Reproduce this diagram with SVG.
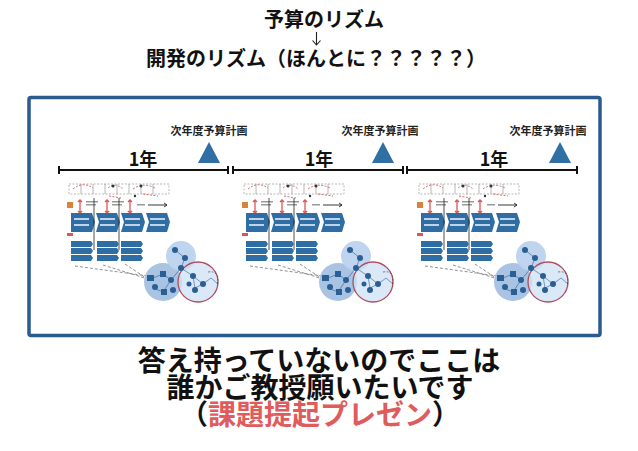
<svg xmlns="http://www.w3.org/2000/svg" width="638" height="451" viewBox="0 0 638 451">
<style>
.t{font-family:"Noto Sans CJK JP","Noto Sans",sans-serif;font-weight:700;fill:#111;text-anchor:middle}
.lbl{font-family:"Noto Sans CJK JP","Noto Sans",sans-serif;font-weight:700;fill:#222;text-anchor:middle;font-size:11px}
.yr{font-family:"Noto Sans CJK JP","Noto Sans",sans-serif;font-weight:700;fill:#111;text-anchor:middle;font-size:18px}
.tl{stroke:#111;stroke-width:2;fill:none}
.tri{fill:#2f6fa6}
.chev{fill:#2f6ea5}
.node{fill:#2a5f96}
.thin{stroke:#888;stroke-width:0.6;fill:none}
.red{stroke:#d86a6a;stroke-width:1;fill:none}
.dash{stroke:#444;stroke-width:0.6;stroke-dasharray:3 2;fill:none}
</style>
<defs>
<g id="thumb">
  <g class="thin">
    <rect x="6" y="4" width="100" height="10" stroke-dasharray="2 1.5"/>
    <line x1="18" y1="4" x2="18" y2="14"/><line x1="30" y1="4" x2="30" y2="14"/><line x1="42" y1="4" x2="42" y2="14"/>
    <line x1="54" y1="4" x2="54" y2="14"/><line x1="66" y1="4" x2="66" y2="14"/><line x1="78" y1="4" x2="78" y2="14"/><line x1="90" y1="4" x2="90" y2="14"/>
  </g>
  <g class="red" stroke-dasharray="2 1.5">
    <path d="M10 9 Q20 1 30 8"/><path d="M45 8 Q52 2 60 9"/><path d="M70 9 Q80 2 92 8"/><path d="M46 16 L58 18"/><path d="M80 14 L95 16"/>
  </g>
  <g fill="#333"><circle cx="50" cy="6" r="1.5"/><circle cx="78" cy="6" r="1.5"/><circle cx="72" cy="16" r="1.2"/></g>
  <rect x="4" y="22" width="6" height="6" fill="#d9823a"/>
  <g stroke="#d55" stroke-width="1.3" fill="none">
    <path d="M17 20 V33 M15 22 L17 20 L19 22 M15 31 L17 33 L19 31"/>
    <path d="M44 20 V33 M42 22 L44 20 L46 22 M42 31 L44 33 L46 31"/>
    <path d="M67 20 V33 M65 22 L67 20 L69 22 M65 31 L67 33 L69 31"/>
  </g>
  <g fill="#999"><rect x="23" y="21" width="12" height="1.5"/><rect x="23" y="24" width="10" height="1.5"/><rect x="49" y="21" width="12" height="1.5"/><rect x="49" y="24" width="10" height="1.5"/><rect x="74" y="24" width="8" height="1.5"/></g>
  <path d="M85 25 H104 M101 23 L104 25 L101 27" stroke="#222" stroke-width="0.9" fill="none"/>
  <g class="chev">
    <path d="M8 33 H29 L32 42 L29 52 H8 Z"/>
    <path d="M33 33 H54 L57 42 L54 52 H33 L36 42 Z"/>
    <path d="M58 33 H79 L82 42 L79 52 H58 L61 42 Z"/>
    <path d="M83 33 H104 L107 42 L104 52 H83 L86 42 Z"/>
  </g>
  <g fill="#e6eef8" opacity="0.8">
    <rect x="11" y="38" width="15" height="2"/><rect x="11" y="44" width="15" height="2"/>
    <rect x="37" y="38" width="15" height="2"/><rect x="37" y="44" width="15" height="2"/>
    <rect x="62" y="38" width="15" height="2"/><rect x="62" y="44" width="15" height="2"/>
    <rect x="87" y="38" width="15" height="2"/><rect x="87" y="44" width="15" height="2"/>
  </g>
  <g stroke="#222" stroke-width="0.8"><line x1="31" y1="18" x2="31" y2="70"/><line x1="56" y1="18" x2="56" y2="70"/></g>
  <rect x="4" y="53" width="6" height="3" fill="#d55"/>
  <g class="chev">
    <path d="M8 61 H28 L30 64 L28 67 H8 Z"/><path d="M8 68 H28 L30 71 L28 74 H8 Z"/><path d="M8 75 H28 L30 78 L28 81 H8 Z"/>
    <path d="M34 61 H54 L56 64 L54 67 H34 Z"/><path d="M34 68 H54 L56 71 L54 74 H34 Z"/><path d="M34 75 H54 L56 78 L54 81 H34 Z"/>
    <path d="M58 61 H78 L80 64 L78 67 H58 Z"/><path d="M58 68 H78 L80 71 L78 74 H58 Z"/><path d="M58 75 H78 L80 78 L78 81 H58 Z"/>
  </g>
  <path class="dash" d="M12 86 L85 96"/><path class="dash" d="M40 85 L88 100"/><path class="dash" d="M62 84 L92 104"/>
  <circle cx="100" cy="102" r="19" fill="#a9c3e3"/>
  <circle cx="118" cy="76" r="15" fill="#bcd2ed" opacity="0.95"/>
  <circle cx="135" cy="102" r="20" fill="#cfe0f4" fill-opacity="0.75" stroke="#b04b5c" stroke-width="1.3"/>
  <g stroke="#2a5f96" stroke-width="0.6" fill="none">
    <path d="M90 98 L100 94 L108 100 L100 112 L90 108"/><path d="M112 70 L122 78 L118 88 L108 100"/><path d="M118 88 L130 96 L140 104 L148 98 L155 104"/><path d="M130 96 L132 108 L140 104"/>
  </g>
  <g class="node">
    <rect x="84" y="95" width="7" height="6"/><rect x="97" y="91" width="6" height="6"/><rect x="98" y="109" width="6" height="6"/>
    <circle cx="92" cy="107" r="3"/><circle cx="108" cy="100" r="3"/><circle cx="110" cy="110" r="3"/>
    <circle cx="112" cy="70" r="3"/><circle cx="122" cy="78" r="3"/><circle cx="118" cy="88" r="3"/>
    <circle cx="130" cy="96" r="3"/><circle cx="140" cy="104" r="3"/><circle cx="132" cy="110" r="3"/><circle cx="126" cy="104" r="2.5"/>
  </g>
  <path d="M145 92 Q158 90 154 106" stroke="#333" stroke-width="0.6" stroke-dasharray="2 1.5" fill="none"/>
</g>
</defs>

<g id="title">
  <text class="t" x="324" y="27" font-size="20">予算のリズム</text>
  <text class="t" x="316" y="66" font-size="20">開発のリズム（ほんとに？？？？？）</text>
</g>

<g id="connectors">
  <path d="M316.5 32 V45 M312.5 40.5 L316.5 45 L320.5 40.5" stroke="#222" stroke-width="1.1" fill="none"/>
</g>

<g id="frame">
  <rect x="29" y="97.5" width="571" height="238" rx="2" fill="#fff" stroke="#2a5a8e" stroke-width="3.5"/>
</g>

<g id="timeline1">
  <path class="tl" d="M59 170 H228 M59 166 V174 M228 166 V174"/>
  <text class="yr" x="143" y="166">1年</text>
  <polygon class="tri" points="209,142 220,163 198,163"/>
  <text class="lbl" x="209" y="135">次年度予算計画</text>
  <use href="#thumb" x="63" y="180"/>
</g>
<g id="timeline2">
  <path class="tl" d="M233 170 H403 M233 166 V174 M403 166 V174"/>
  <text class="yr" x="319" y="166">1年</text>
  <polygon class="tri" points="383,142 394,163 372,163"/>
  <text class="lbl" x="380" y="135">次年度予算計画</text>
  <use href="#thumb" x="238" y="180"/>
</g>
<g id="timeline3">
  <path class="tl" d="M407 170 H577 M407 166 V174 M577 166 V174"/>
  <text class="yr" x="494" y="166">1年</text>
  <polygon class="tri" points="560,142 571,163 549,163"/>
  <text class="lbl" x="548" y="135">次年度予算計画</text>
  <use href="#thumb" x="413" y="180"/>
</g>

<g id="message">
  <text class="t" x="319" y="371" font-size="28">答え持っていないのでここは</text>
  <text class="t" x="320" y="398" font-size="28">誰かご教授願いたいです</text>
  <text class="t" x="320" y="425" font-size="28">（<tspan fill="#e05c5c">課題提起プレゼン</tspan>）</text>
</g>
</svg>
